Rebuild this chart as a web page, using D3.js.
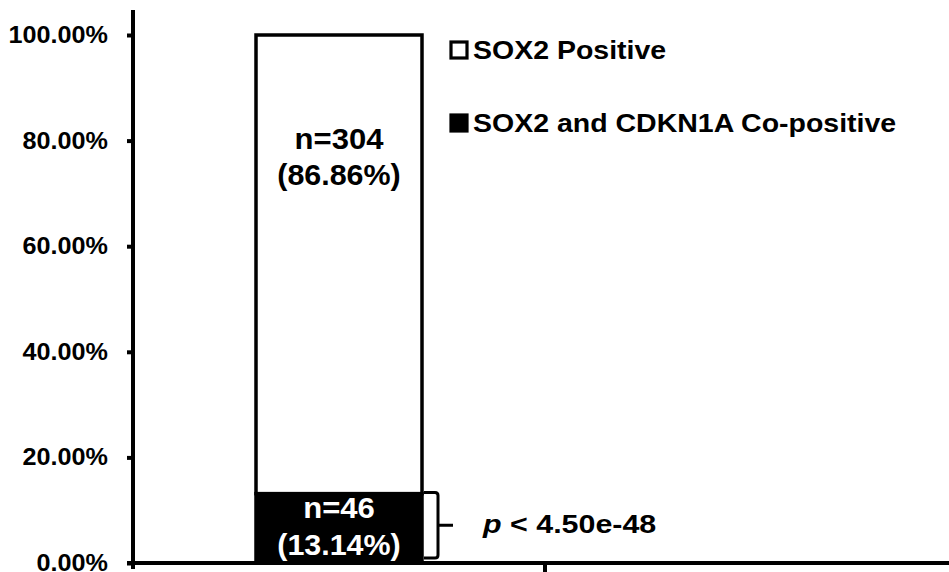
<!DOCTYPE html>
<html><head><meta charset="utf-8">
<script src="https://cdn.jsdelivr.net/npm/d3@7"></script>
<style>
html,body{margin:0;padding:0;background:#fff;}
svg{display:block;font-family:"Liberation Sans",Arial,sans-serif;font-weight:bold;}
</style></head>
<body>
<svg id="c" width="949" height="572"></svg>
<script>
const categories = ["Group", "(empty)"];
const seriesNames = ["SOX2 and CDKN1A Co-positive", "SOX2 Positive"];
const seriesCounts = [46, 304];
const seriesPercents = [13.14, 86.86];
const seriesFills = ["#000000", "#ffffff"];
const seriesTextColors = ["#ffffff", "#000000"];
const yTicks = [0, 20, 40, 60, 80, 100];
const pText = "< 4.50e-48";

const svg = d3.select("#c");
const y = d3.scaleLinear().domain([0, 100]).range([563, 35]);
const x = d3.scaleBand().domain(categories).range([133, 957]).paddingInner(0).paddingOuter(0);
const barW = 166;
const cx = x(categories[0]) + x.bandwidth() / 2;

function stext(parent, tx, ty, sx, size, anchor, fill, str) {
  const g = parent.append("g").attr("transform", `translate(${tx},${ty}) scale(${sx},1)`);
  return g.append("text").attr("x", 0).attr("y", 0).attr("font-size", size)
    .attr("text-anchor", anchor).attr("fill", fill).text(str);
}

// stacked bars
let cum = 0;
const stacks = seriesPercents.map((v, i) => { const s = {y0: cum, y1: cum + v, i}; cum += v; return s; });
svg.selectAll("rect.bar").data(stacks).enter().append("rect")
  .attr("x", cx - barW / 2).attr("width", barW)
  .attr("y", d => y(d.y1)).attr("height", d => y(d.y0) - y(d.y1))
  .attr("fill", d => seriesFills[d.i]).attr("stroke", "#000").attr("stroke-width", 3.5);

// bar labels
stacks.forEach(d => {
  const yy = d.i === 0 ? [518, 555] : [149, 185];
  stext(svg, cx, yy[0], 1.07, 29, "middle", seriesTextColors[d.i], "n=" + seriesCounts[d.i]);
  stext(svg, cx, yy[1], 1.05, 29, "middle", seriesTextColors[d.i], "(" + seriesPercents[d.i].toFixed(2) + "%)");
});

// y axis
const yAxis = d3.axisLeft(y).tickValues(yTicks).tickFormat(d => d.toFixed(2) + "%").tickSize(6);
const gy = svg.append("g").attr("transform", "translate(133,0)").call(yAxis);
gy.select(".domain").remove();
gy.selectAll(".tick line").attr("stroke", "#000").attr("stroke-width", 4);
gy.selectAll(".tick text").attr("font-size", 24).attr("fill", "#000")
  .attr("font-family", "Liberation Sans, Arial, sans-serif").attr("font-weight", "bold")
  .attr("x", 0).attr("dy", null).attr("y", 0)
  .attr("transform", "translate(-25,7.5) scale(1.05,1)");
svg.append("line").attr("x1", 133).attr("x2", 133).attr("y1", 10).attr("y2", 569).attr("stroke", "#000").attr("stroke-width", 4);

// x axis
svg.append("line").attr("x1", 127).attr("x2", 949).attr("y1", y(0)).attr("y2", y(0)).attr("stroke", "#000").attr("stroke-width", 4);
const bounds = categories.slice(1).map(c => x(c));
svg.selectAll("line.xt").data(bounds).enter().append("line")
  .attr("x1", d => d).attr("x2", d => d).attr("y1", y(0)).attr("y2", y(0) + 9)
  .attr("stroke", "#000").attr("stroke-width", 4);

// bracket
const bx0 = cx + barW / 2 + 2, bx1 = 438;
const bt = y(seriesPercents[0]) - 1, bb = y(0) - 5, bm = (bt + bb) / 2;
svg.append("path")
  .attr("d", `M${bx0},${bt} L${bx1 - 3},${bt} Q${bx1},${bt} ${bx1},${bt + 3} L${bx1},${bm} L${bx1 + 15},${bm} M${bx1},${bm} L${bx1},${bb - 3} Q${bx1},${bb} ${bx1 - 3},${bb} L${bx0},${bb}`)
  .attr("fill", "none").attr("stroke", "#000").attr("stroke-width", 3);
const pt = stext(svg, 483, 533, 1.17, 26, "start", "#000", "");
pt.append("tspan").attr("font-style", "italic").text("p");
pt.append("tspan").text(" " + pText);

// legend
const legOrder = [1, 0];
legOrder.forEach((si, k) => {
  const ly = 50 + k * 73;
  svg.append("rect").attr("x", 451).attr("y", ly - 8).attr("width", 16).attr("height", 16)
    .attr("fill", seriesFills[si]).attr("stroke", "#000").attr("stroke-width", 3.2);
  stext(svg, 473, ly + 8.5, 1.14, 25, "start", "#000", seriesNames[si]);
});
</script>
</body></html>
